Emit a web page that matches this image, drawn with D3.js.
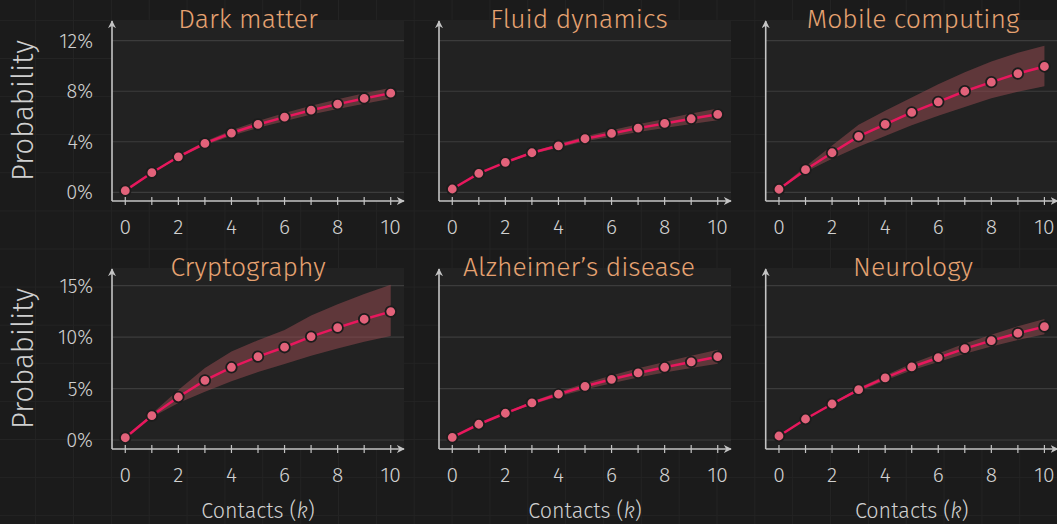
<!DOCTYPE html>
<html>
<head>
<meta charset="utf-8">
<script src="https://cdn.jsdelivr.net/npm/d3@7"></script>
<style>
  html, body { margin: 0; padding: 0; background: #1b1b1b; }
  svg { display: block; }
  text { font-family: "Fira Sans", Lato, "Open Sans", sans-serif; }
</style>
</head>
<body>
<svg id="chart" width="1057" height="524"></svg>
<script>
// ---------- data ----------
const contacts = [0, 1, 2, 3, 4, 5, 6, 7, 8, 9, 10];
const titles = ["Dark matter", "Fluid dynamics", "Mobile computing",
                "Cryptography", "Alzheimer\u2019s disease", "Neurology"];
const yTicksTop = [0, 0.04, 0.08, 0.12];
const yTicksBottom = [0, 0.05, 0.10, 0.15];
const xTickLabels = [0, 2, 4, 6, 8, 10];

// mean probability (%) per number of contacts
const darkMatter      = [0.13, 1.55, 2.81, 3.87, 4.69, 5.37, 5.95, 6.50, 6.98, 7.43, 7.85];
const fluidDynamics   = [0.26, 1.50, 2.37, 3.13, 3.68, 4.24, 4.66, 5.08, 5.45, 5.82, 6.17];
const mobileComputing = [0.24, 1.79, 3.13, 4.43, 5.38, 6.32, 7.16, 8.00, 8.72, 9.40, 9.96];
const cryptography    = [0.22, 2.36, 4.18, 5.80, 7.07, 8.10, 9.02, 10.05, 10.92, 11.74, 12.48];
const alzheimers      = [0.26, 1.53, 2.60, 3.60, 4.45, 5.22, 5.90, 6.52, 7.07, 7.59, 8.10];
const neurology       = [0.39, 2.04, 3.50, 4.89, 6.03, 7.10, 8.00, 8.88, 9.66, 10.38, 11.02];

// lower / upper uncertainty bounds (%)
const darkMatterLo      = [0.13, 1.50, 2.71, 3.72, 4.47, 5.10, 5.63, 6.15, 6.60, 7.01, 7.40];
const darkMatterHi      = [0.13, 1.60, 2.91, 4.02, 4.91, 5.64, 6.27, 6.85, 7.36, 7.85, 8.28];
const fluidDynamicsLo   = [0.26, 1.47, 2.31, 3.03, 3.53, 4.04, 4.40, 4.77, 5.09, 5.41, 5.71];
const fluidDynamicsHi   = [0.26, 1.53, 2.43, 3.23, 3.83, 4.44, 4.92, 5.39, 5.81, 6.23, 6.63];
const mobileComputingLo = [0.20, 1.60, 2.65, 3.60, 4.45, 5.30, 6.05, 6.75, 7.45, 7.95, 8.40];
const mobileComputingHi = [0.30, 2.05, 3.70, 5.35, 6.45, 7.50, 8.55, 9.50, 10.35, 11.05, 11.60];
const cryptographyLo    = [0.20, 2.20, 3.60, 4.70, 5.70, 6.60, 7.40, 8.20, 8.90, 9.55, 10.10];
const cryptographyHi    = [0.25, 2.55, 4.85, 7.00, 8.60, 9.70, 10.70, 12.10, 13.20, 14.20, 15.10];
const alzheimersLo      = [0.26, 1.48, 2.50, 3.45, 4.23, 4.92, 5.52, 6.07, 6.55, 6.99, 7.42];
const alzheimersHi      = [0.26, 1.58, 2.70, 3.75, 4.67, 5.52, 6.28, 6.97, 7.59, 8.19, 8.78];
const neurologyLo       = [0.39, 1.99, 3.40, 4.72, 5.78, 6.77, 7.58, 8.38, 9.08, 9.71, 10.27];
const neurologyHi       = [0.39, 2.09, 3.60, 5.06, 6.28, 7.43, 8.42, 9.38, 10.24, 11.05, 11.77];

const seriesMean = [darkMatter, fluidDynamics, mobileComputing, cryptography, alzheimers, neurology];
const seriesLo = [darkMatterLo, fluidDynamicsLo, mobileComputingLo, cryptographyLo, alzheimersLo, neurologyLo];
const seriesHi = [darkMatterHi, fluidDynamicsHi, mobileComputingHi, cryptographyHi, alzheimersHi, neurologyHi];

// ---------- layout ----------
const W = 1057, H = 524;
const colX = [112, 439, 765.7];
const rowY = [20, 268];
const PW = 292, PH = 181;
const titleCX = [248, 579, 913];
const rowYDomain = [[-0.0069, 0.1364], [-0.00875, 0.1672]];
const rowTicks = [yTicksTop, yTicksBottom];

const C = {
  page: "#1b1b1b", bgGrid: "#242424", panel: "#222222", grid: "#3c3c3c",
  axis: "#c4c4c4", tick: "#d0d0d0", title: "#e6a271",
  line: "#e8175d", point: "#e2627a", pointStroke: "#1c1c1c",
  band: "rgb(145,72,78)"
};

const svg = d3.select("#chart");
svg.append("rect").attr("width", W).attr("height", H).attr("fill", C.page);

// faint page grid
const bgx = d3.range(-1, 29).map(n => 35.7 + 37.85 * n);
const bgy = d3.range(-7, 8).map(n => 249 + 38.1 * n);
svg.append("g").selectAll("line.v").data(bgx).join("line")
  .attr("x1", d => d).attr("x2", d => d).attr("y1", 0).attr("y2", H)
  .attr("stroke", C.bgGrid).attr("stroke-width", 1);
svg.append("g").selectAll("line.h").data(bgy).join("line")
  .attr("y1", d => d).attr("y2", d => d).attr("x1", 0).attr("x2", W)
  .attr("stroke", C.bgGrid).attr("stroke-width", 1);

// arrow markers
const defs = svg.append("defs");
defs.append("marker").attr("id", "arrow")
  .attr("viewBox", "0 0 10 10").attr("refX", 9).attr("refY", 5)
  .attr("markerWidth", 8).attr("markerHeight", 8).attr("markerUnits", "userSpaceOnUse")
  .attr("orient", "auto")
  .append("path").attr("d", "M0,0 L10,5 L0,10 L3,5 Z").attr("fill", C.axis);

titles.forEach((title, i) => {
  const r = Math.floor(i / 3), c = i % 3;
  const g = svg.append("g").attr("transform", `translate(${colX[c]},${rowY[r]})`);
  const x = d3.scaleLinear().domain([-0.5, 10.5]).range([0, PW]);
  const y = d3.scaleLinear().domain(rowYDomain[r]).range([PH, 0]);

  g.append("rect").attr("width", PW).attr("height", PH).attr("fill", C.panel);

  // gridlines
  g.append("g").selectAll("line").data(rowTicks[r]).join("line")
    .attr("x1", 0).attr("x2", PW)
    .attr("y1", d => y(d)).attr("y2", d => y(d))
    .attr("stroke", C.grid).attr("stroke-width", 1.2);

  const mean = seriesMean[i].map(v => v / 100);
  const lo = seriesLo[i].map(v => v / 100);
  const hi = seriesHi[i].map(v => v / 100);

  // band
  const area = d3.area().x((d, j) => x(contacts[j])).y0((d, j) => y(lo[j])).y1((d, j) => y(hi[j]));
  g.append("path").datum(mean).attr("d", area)
    .attr("fill", C.band).attr("fill-opacity", 0.55);

  // line
  const line = d3.line().x((d, j) => x(contacts[j])).y(d => y(d));
  g.append("path").datum(mean).attr("d", line)
    .attr("fill", "none").attr("stroke", C.line).attr("stroke-width", 2.5);

  // points
  g.append("g").selectAll("circle").data(mean).join("circle")
    .attr("cx", (d, j) => x(contacts[j])).attr("cy", d => y(d)).attr("r", 5.3)
    .attr("fill", C.point).attr("stroke", C.pointStroke).attr("stroke-width", 1.8);

  // x axis line with arrow
  g.append("line").attr("x1", 0).attr("x2", PW).attr("y1", PH).attr("y2", PH)
    .attr("stroke", C.axis).attr("stroke-width", 1.6).attr("marker-end", "url(#arrow)");
  // y axis line with arrow
  g.append("line").attr("x1", 0).attr("x2", 0).attr("y1", PH).attr("y2", 1)
    .attr("stroke", C.axis).attr("stroke-width", 1.6).attr("marker-end", "url(#arrow)");

  // x ticks
  g.append("g").selectAll("line").data(contacts).join("line")
    .attr("x1", d => x(d)).attr("x2", d => x(d)).attr("y1", PH - 4).attr("y2", PH + 4)
    .attr("stroke", C.axis).attr("stroke-width", 1.2);
  g.append("g").selectAll("text").data(xTickLabels).join("text")
    .attr("x", d => x(d)).attr("y", PH + 33)
    .attr("text-anchor", "middle").attr("fill", C.tick)
    .attr("font-size", 21).attr("font-weight", 300)
    .text(d => d);

  // y tick labels on left column
  if (c === 0) {
    g.append("g").selectAll("text").data(rowTicks[r]).join("text")
      .attr("x", -19).attr("y", d => y(d)).attr("dy", "0.36em")
      .attr("text-anchor", "end").attr("fill", C.tick)
      .attr("font-size", 20).attr("font-weight", 300)
      .text(d => d3.format(".0%")(d));
    g.append("text")
      .attr("transform", `translate(${23 - colX[c]},${PH / 2}) rotate(-90)`)
      .attr("text-anchor", "middle").attr("dy", "0.35em")
      .attr("fill", C.tick).attr("font-size", 29.5).attr("font-weight", 300)
      .text("Probability");
  }

  // x axis title on bottom row
  if (r === 1) {
    const t = g.append("text").attr("x", x(5)).attr("y", PH + 68.5)
      .attr("text-anchor", "middle").attr("fill", C.tick)
      .attr("font-size", 21.5).attr("font-weight", 300);
    t.append("tspan").text("Contacts (");
    t.append("tspan").attr("font-style", "italic").text("k");
    t.append("tspan").text(")");
  }

  // title
  svg.append("text").attr("x", titleCX[c]).attr("y", rowY[r] + 7.5)
    .attr("text-anchor", "middle").attr("fill", C.title)
    .attr("font-size", 26.5).attr("font-weight", 300)
    .text(title);
});
</script>
</body>
</html>
